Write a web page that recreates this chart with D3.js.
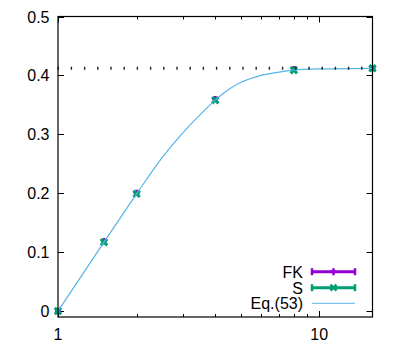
<!DOCTYPE html>
<html>
<head>
<meta charset="utf-8">
<script src="https://cdn.jsdelivr.net/npm/d3@7"></script>
<style>
  body { margin: 0; background: #fff; }
  text { font-family: "Liberation Sans", Arial, Helvetica, sans-serif; font-size: 16px; fill: #000; }
</style>
</head>
<body>
<div id="chart"></div>
<script>
// data
const xVals = [1, 1.5, 2, 4, 8, 16];
const fkVals = [0, 0.119, 0.201, 0.360, 0.411, 0.412];
const sVals = [0, 0.117, 0.199, 0.358, 0.409, 0.412];

// Eq.(53) curve, sampled by eye
const eqX = [1, 1.5, 2, 2.5, 3, 4, 4.5, 5, 6, 7, 8, 10, 16];
const eqY = [0, 0.117, 0.199, 0.260, 0.302, 0.358, 0.376, 0.388, 0.400, 0.4055, 0.409, 0.411, 0.412];

const limitVal = 0.412;

const yTicks = [0, 0.1, 0.2, 0.3, 0.4, 0.5];
const yTickLabels = ["0", "0.1", "0.2", "0.3", "0.4", "0.5"];
const xMajor = [1, 10];
const xMinor = [2, 3, 4, 5, 6, 7, 8, 9];

const legendNames = ["FK", "S", "Eq.(53)"];
const colors = ["#9400d3", "#009e73", "#56b4e9"];

const width = 400, height = 350;
const mLeft = 58, mRight = 372.5, mTop = 16.5, mBottom = 317;

const svg = d3.select("#chart").append("svg")
    .attr("width", width)
    .attr("height", height);

const x = d3.scaleLog().domain([1, 16]).range([mLeft, mRight]);
const y = d3.scaleLinear().domain([-0.01, 0.5]).range([mBottom, mTop]);

// ticks (mirrored on all sides, pointing inward)
const axes = svg.append("g").attr("stroke", "#000").attr("stroke-width", 1);
yTicks.forEach(function(d) {
    let yy = Math.round(y(d)) + 0.5;
    axes.append("line").attr("x1", mLeft).attr("x2", mLeft + 6).attr("y1", yy).attr("y2", yy);
    axes.append("line").attr("x1", mRight - 6).attr("x2", mRight).attr("y1", yy).attr("y2", yy);
});
xMajor.forEach(function(d) {
    let xx = Math.round(x(d)) + 0.5;
    axes.append("line").attr("x1", xx).attr("x2", xx).attr("y1", mBottom).attr("y2", mBottom - 6);
    axes.append("line").attr("x1", xx).attr("x2", xx).attr("y1", mTop).attr("y2", mTop + 6);
});
xMinor.forEach(function(d) {
    let xx = Math.round(x(d)) + 0.5;
    axes.append("line").attr("x1", xx).attr("x2", xx).attr("y1", mBottom).attr("y2", mBottom - 3);
    axes.append("line").attr("x1", xx).attr("x2", xx).attr("y1", mTop).attr("y2", mTop + 3);
});

// tick labels
svg.selectAll(".ylab")
    .data(yTicks)
    .enter()
    .append("text")
    .attr("class", "ylab")
    .attr("text-anchor", "end")
    .attr("x", 49.5)
    .attr("y", function(d) { return y(d) + 6; })
    .text(function(d, i) { return yTickLabels[i]; });

svg.selectAll(".xlab")
    .data(xMajor)
    .enter()
    .append("text")
    .attr("class", "xlab")
    .attr("text-anchor", "middle")
    .attr("x", function(d) { return x(d); })
    .attr("y", 339.5)
    .text(function(d) { return d; });

// markers
function plusPath(cx, cy, r) {
    return "M" + (cx - r) + "," + cy + "H" + (cx + r) + "M" + cx + "," + (cy - r) + "V" + (cy + r);
}
function crossPath(cx, cy, r) {
    return "M" + (cx - r) + "," + (cy - r) + "L" + (cx + r) + "," + (cy + r) +
        "M" + (cx - r) + "," + (cy + r) + "L" + (cx + r) + "," + (cy - r);
}

svg.append("g").selectAll("path")
    .data(xVals)
    .enter()
    .append("path")
    .attr("d", function(d, i) { return plusPath(x(d), y(fkVals[i]), 3); })
    .attr("stroke", colors[0])
    .attr("stroke-width", 2.5)
    .attr("fill", "none");

svg.append("g").selectAll("path")
    .data(xVals)
    .enter()
    .append("path")
    .attr("d", function(d, i) { return crossPath(x(d), y(sVals[i]), 3.2); })
    .attr("stroke", colors[1])
    .attr("stroke-width", 3)
    .attr("fill", "none");

// Eq.(53) curve
const line = d3.line()
    .x(function(d) { return x(d[0]); })
    .y(function(d) { return y(d[1]); })
    .curve(d3.curveCatmullRom.alpha(0.5));

svg.append("path")
    .datum(eqX.map(function(d, i) { return [d, eqY[i]]; }))
    .attr("d", line)
    .attr("fill", "none")
    .attr("stroke", colors[2])
    .attr("stroke-width", 1.2);

// dotted limit line
svg.append("line")
    .attr("x1", mLeft - 0.5)
    .attr("x2", mRight)
    .attr("y1", y(limitVal))
    .attr("y2", y(limitVal))
    .attr("stroke", "#222")
    .attr("stroke-width", 3)
    .attr("stroke-dasharray", "1.4 11.8");

// frame
svg.append("rect")
    .attr("x", mLeft)
    .attr("y", mTop)
    .attr("width", mRight - mLeft)
    .attr("height", mBottom - mTop)
    .attr("fill", "none")
    .attr("stroke", "#000")
    .attr("stroke-width", 1.2);

// legend
const legY = [271.7, 287.7, 303.3];
const lx1 = 312, lx2 = 355, lmid = 333.5;
const legend = svg.append("g");
legendNames.forEach(function(name, i) {
    legend.append("text")
        .attr("text-anchor", "end")
        .attr("x", 303)
        .attr("y", legY[i] + 6)
        .text(name);
    if (i < 2) {
        legend.append("line")
            .attr("x1", lx1).attr("x2", lx2).attr("y1", legY[i]).attr("y2", legY[i])
            .attr("stroke", colors[i]).attr("stroke-width", 3);
        [lx1, lx2].forEach(function(cx) {
            legend.append("line")
                .attr("x1", cx).attr("x2", cx).attr("y1", legY[i] - 3.5).attr("y2", legY[i] + 3.5)
                .attr("stroke", colors[i]).attr("stroke-width", 2.5);
        });
        legend.append("path")
            .attr("d", i === 0 ? plusPath(lmid, legY[i], 3.5) : crossPath(lmid, legY[i], 3))
            .attr("stroke", colors[i]).attr("stroke-width", 2.5).attr("fill", "none");
    } else {
        legend.append("line")
            .attr("x1", lx1).attr("x2", lx2).attr("y1", legY[i]).attr("y2", legY[i])
            .attr("stroke", colors[i]).attr("stroke-width", 1);
    }
});
</script>
</body>
</html>
